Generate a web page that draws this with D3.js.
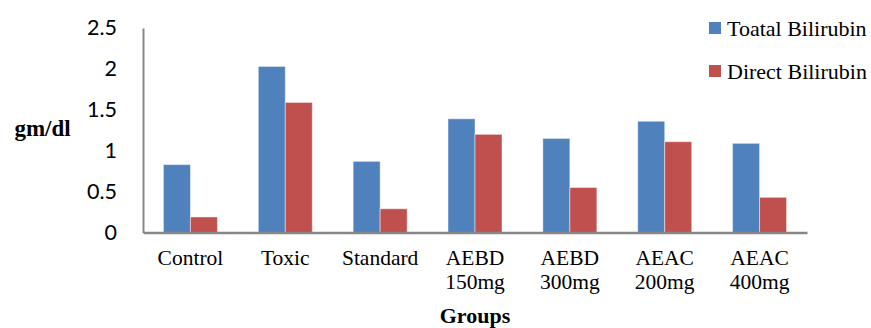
<!DOCTYPE html>
<html><head><meta charset="utf-8">
<script src="https://cdn.jsdelivr.net/npm/d3@7"></script>
<style>body{margin:0;background:#fff}svg{display:block}</style>
</head><body>
<svg id="c" width="871" height="328"></svg>
<script>
const categories = [["Control"],["Toxic"],["Standard"],["AEBD","150mg"],["AEBD","300mg"],["AEAC","200mg"],["AEAC","400mg"]];
const seriesNames = ["Toatal Bilirubin","Direct Bilirubin"];
const totalBilirubin = [0.83, 2.03, 0.87, 1.39, 1.15, 1.36, 1.09];
const directBilirubin = [0.19, 1.59, 0.29, 1.20, 0.55, 1.11, 0.43];
const yTicks = [0, 0.5, 1, 1.5, 2, 2.5];
const colors = ["#4F81BD", "#C0504D"];

const svg = d3.select("#c");
const L = 143, R = 807, T = 28, B = 232.5;
const keys = categories.map(c => c.join(" "));
const x0 = d3.scaleBand().domain(keys).range([L, R]).paddingInner(0).paddingOuter(0);
const x1 = d3.scaleBand().domain(seriesNames).range([0, x0.bandwidth()]).paddingInner(0).paddingOuter(0.757);
const y = d3.scaleLinear().domain([0, 2.5]).range([B, T]);
const seriesVals = [totalBilirubin, directBilirubin];

// bars
seriesNames.forEach((s, si) => {
  svg.append("g").selectAll("rect").data(seriesVals[si]).join("rect")
    .attr("x", (d, i) => x0(keys[i]) + x1(s))
    .attr("y", d => y(d))
    .attr("width", x1.bandwidth())
    .attr("height", d => B - y(d))
    .attr("fill", colors[si])
    .attr("stroke", "rgba(255,255,255,0.45)")
    .attr("stroke-width", 1);
});

// y axis
const yAxis = d3.axisLeft(y).tickValues(yTicks).tickSize(0).tickPadding(26)
  .tickFormat(d => d3.format("")(d));
const gy = svg.append("g").attr("transform", `translate(${L},0)`).call(yAxis);
gy.select(".domain").attr("stroke", "#878787").attr("stroke-width", 2);
gy.selectAll("text").attr("font-family", "Lato, 'Open Sans', sans-serif").attr("font-size", 21.5).attr("fill", "#000");

// x axis
const xAxis = d3.axisBottom(x0).tickSize(0).tickFormat("");
const gx = svg.append("g").attr("transform", `translate(0,${B})`).call(xAxis);
gx.select(".domain").attr("stroke", "#878787").attr("stroke-width", 2.5);

// category labels
const lab = svg.append("g").selectAll("text").data(categories).join("text")
  .attr("text-anchor", "middle")
  .attr("font-family", "'Liberation Serif', 'Times New Roman', serif")
  .attr("font-size", 21.5).attr("fill", "#000");
lab.each(function(c, i) {
  const t = d3.select(this);
  c.forEach((line, li) => {
    t.append("tspan").attr("x", x0(keys[i]) + x0.bandwidth() / 2)
      .attr("y", 265 + li * 24).text(line);
  });
});

// axis titles
svg.append("text").attr("x", (L + R) / 2).attr("y", 323).attr("text-anchor", "middle")
  .attr("font-family", "'Liberation Serif', serif").attr("font-weight", "bold").attr("font-size", 22).text("Groups");
svg.append("text").attr("x", 42.5).attr("y", 136).attr("text-anchor", "middle")
  .attr("font-family", "'Liberation Serif', serif").attr("font-weight", "bold").attr("font-size", 23).text("gm/dl");

// legend
const leg = svg.append("g").selectAll("g").data(seriesNames).join("g")
  .attr("transform", (d, i) => `translate(709,${22 + i * 43})`);
leg.append("rect").attr("width", 12).attr("height", 12).attr("fill", (d, i) => colors[i]);
leg.append("text").attr("x", 18).attr("y", 14)
  .attr("font-family", "'Liberation Serif', serif").attr("font-size", 22).text(d => d);
</script>
</body></html>
